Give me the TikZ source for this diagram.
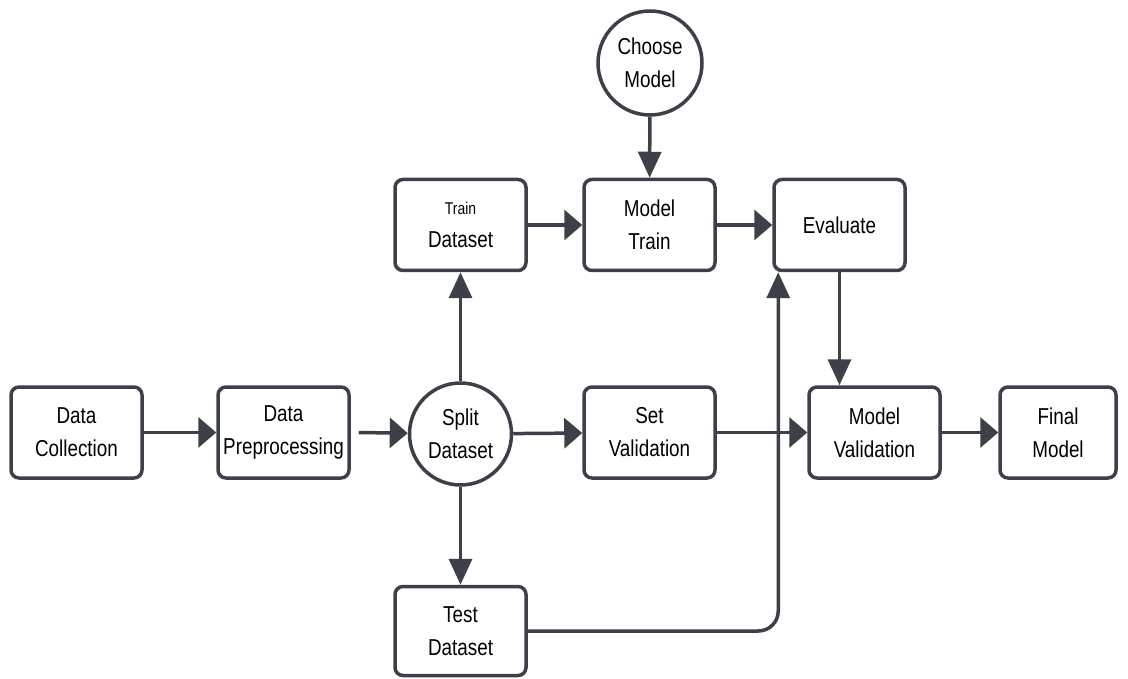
\documentclass[tikz,border=0pt]{standalone}
\usepackage{fontspec}
\setmainfont[FakeStretch=0.82]{Liberation Sans}
\usetikzlibrary{arrows.meta}
\definecolor{ink}{RGB}{60,64,72}
\tikzset{
  box/.style={draw=ink, line width=3.5pt, rounded corners=8pt, fill=white,
    minimum width=131pt, minimum height=91pt, align=center, inner sep=2pt,
    font=\fontsize{23}{33}\selectfont, text=black},
  roundnode/.style={draw=ink, line width=3.5pt, circle, fill=white,
    minimum size=102pt, align=center, inner sep=1pt,
    font=\fontsize{23}{33}\selectfont, text=black},
  link/.style={draw=ink, line width=3.5pt},
  harr/.style={link, -{Triangle[length=18pt, width=30pt]}},
  varr/.style={link, -{Triangle[length=26pt, width=23pt]}},
}
\begin{document}
\begin{tikzpicture}[x=1pt,y=-1pt]
\useasboundingbox (0,0) rectangle (1128,679);
\node[box] (dc) at (76.5,432.5) {Data\\Collection};
\node[box] (dp) at (283.5,432.5) {Data\\Preprocessing};
\node[roundnode] (split) at (460.5,434) {Split\\Dataset};
\node[box] (sv) at (649.5,432.5) {Set\\Validation};
\node[box] (mv) at (874.5,432.5) {Model\\Validation};
\node[box, minimum width=116pt] (fm) at (1058,432.5) {Final\\Model};
\node[box] (td) at (460.5,225) {{\fontsize{17}{30}\selectfont Train}\\Dataset};
\node[box] (mt) at (649.5,225) {Model\\Train};
\node[box] (ev) at (839.5,225) {Evaluate};
\node[roundnode, minimum size=104pt] (cm) at (650,63) {Choose\\Model};
\node[box, minimum height=89pt] (test) at (460.5,631) {Test\\Dataset};
\coordinate (evin) at ([xshift=6pt]ev.south west);

\draw[harr] (dc) -- (dp);
\draw[harr] ([xshift=8pt]dp.east) -- (split);
\draw[harr] (split) -- (sv);
\draw[harr] (sv) -- (mv);
\draw[harr] (mv) -- (fm);
\draw[varr] (split) -- (td);
\draw[varr] (split) -- (test);
\draw[harr] (td) -- (mt);
\draw[harr] (mt) -- (ev);
\draw[varr] (cm) -- (mt);
\draw[varr] (ev.south) -- (ev.south |- mv.north);
\draw[varr, rounded corners=20pt] (test.east) -| (evin);
\end{tikzpicture}
\end{document}
